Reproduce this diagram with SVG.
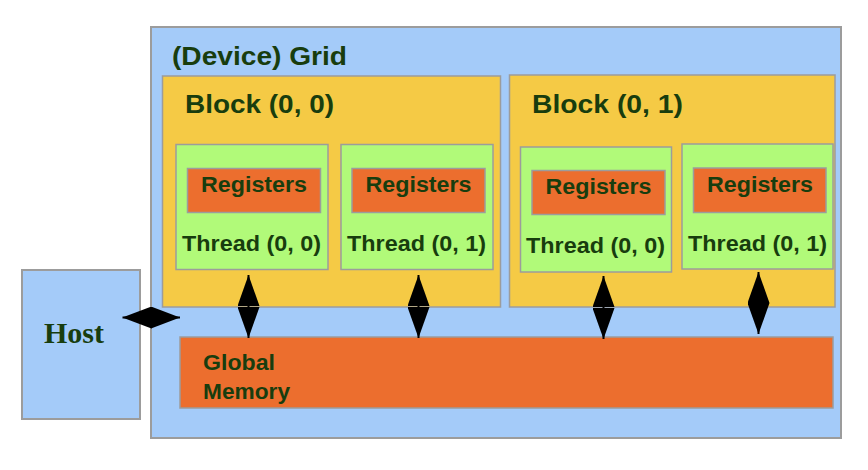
<svg xmlns="http://www.w3.org/2000/svg" width="868" height="470" viewBox="0 0 868 470">
  <style>
    .blue { fill: #a4cbf9; stroke: #9c9c9c; stroke-width: 2; }
    .block { fill: #f5ca45; stroke: #9c9c9c; stroke-width: 1.5; }
    .thread { fill: #b1fa79; stroke: #9c9c9c; stroke-width: 1.5; }
    .reg { fill: #ec6e2e; stroke: #9c9c9c; stroke-width: 1.5; }
    .t { font-family: "Liberation Sans", Arial, sans-serif; font-weight: bold; fill: #183d0e; }
    .big { font-size: 25px; }
    .mid { font-size: 22px; }
    .host { font-family: "Liberation Serif", "Times New Roman", serif; font-weight: bold; font-size: 30px; fill: #183d0e; }
    .conn { stroke: #000; stroke-width: 2; }
  </style>
  <defs>
    <marker id="headV" markerUnits="userSpaceOnUse" markerWidth="32" markerHeight="22" refX="31" refY="11" orient="auto-start-reverse" viewBox="0 0 32 22">
      <path d="M0,0 L31,11 L0,22 Z" fill="#000"/>
    </marker>
    <marker id="headH" markerUnits="userSpaceOnUse" markerWidth="29" markerHeight="22" refX="29" refY="11" orient="auto-start-reverse" viewBox="0 0 29 22">
      <path d="M0,0 L29,11 L0,22 Z" fill="#000"/>
    </marker>
  </defs>

  <g id="host">
    <rect class="blue" x="22" y="270" width="118" height="149"/>
    <text class="host" x="44" y="343">Host</text>
  </g>

  <g id="grid">
    <rect class="blue" x="151" y="27" width="690" height="411"/>
    <text class="t big" x="172" y="65" textLength="175" lengthAdjust="spacingAndGlyphs">(Device) Grid</text>
  </g>

  <g id="block00">
    <rect class="block" x="162.5" y="76" width="338" height="231"/>
    <text class="t big" x="185" y="113" textLength="149" lengthAdjust="spacingAndGlyphs">Block (0, 0)</text>
  </g>
  <g id="block00-thread00">
    <rect class="thread" x="176" y="144.5" width="152" height="125"/>
    <rect class="reg" x="187.5" y="168.5" width="133" height="44"/>
    <text class="t mid" x="254" y="192" text-anchor="middle" textLength="106" lengthAdjust="spacingAndGlyphs">Registers</text>
    <text class="t mid" x="182" y="251" textLength="139" lengthAdjust="spacingAndGlyphs">Thread (0, 0)</text>
  </g>
  <g id="block00-thread01">
    <rect class="thread" x="341" y="144.5" width="152" height="125"/>
    <rect class="reg" x="352" y="168.5" width="133" height="44"/>
    <text class="t mid" x="418.5" y="192" text-anchor="middle" textLength="106" lengthAdjust="spacingAndGlyphs">Registers</text>
    <text class="t mid" x="347" y="251" textLength="139" lengthAdjust="spacingAndGlyphs">Thread (0, 1)</text>
  </g>

  <g id="block01">
    <rect class="block" x="509.5" y="75" width="325.5" height="232"/>
    <text class="t big" x="532" y="113" textLength="151" lengthAdjust="spacingAndGlyphs">Block (0, 1)</text>
  </g>
  <g id="block01-thread00">
    <rect class="thread" x="520.5" y="147" width="151" height="125"/>
    <rect class="reg" x="532" y="170.5" width="133" height="44"/>
    <text class="t mid" x="598.5" y="194" text-anchor="middle" textLength="106" lengthAdjust="spacingAndGlyphs">Registers</text>
    <text class="t mid" x="526" y="253" textLength="139" lengthAdjust="spacingAndGlyphs">Thread (0, 0)</text>
  </g>
  <g id="block01-thread01">
    <rect class="thread" x="682" y="144" width="151" height="125"/>
    <rect class="reg" x="693.5" y="168" width="132.5" height="44.5"/>
    <text class="t mid" x="760" y="192" text-anchor="middle" textLength="106" lengthAdjust="spacingAndGlyphs">Registers</text>
    <text class="t mid" x="688" y="251" textLength="139" lengthAdjust="spacingAndGlyphs">Thread (0, 1)</text>
  </g>

  <g id="global-memory">
    <rect class="reg" x="180" y="337" width="653" height="71"/>
    <text class="t mid" x="203" y="370" textLength="72" lengthAdjust="spacingAndGlyphs">Global</text>
    <text class="t mid" x="203" y="399" textLength="87" lengthAdjust="spacingAndGlyphs">Memory</text>
  </g>

  <g id="connectors">
    <line class="conn" x1="122.5" y1="317.5" x2="180" y2="317.5" marker-start="url(#headH)" marker-end="url(#headH)"/>
    <line class="conn" x1="248.5" y1="275" x2="248.5" y2="338" marker-start="url(#headV)" marker-end="url(#headV)"/>
    <line class="conn" x1="418.5" y1="275" x2="418.5" y2="338" marker-start="url(#headV)" marker-end="url(#headV)"/>
    <line class="conn" x1="603.5" y1="276" x2="603.5" y2="339" marker-start="url(#headV)" marker-end="url(#headV)"/>
    <line class="conn" x1="758.5" y1="272" x2="758.5" y2="334" marker-start="url(#headV)" marker-end="url(#headV)"/>
  </g>
</svg>
